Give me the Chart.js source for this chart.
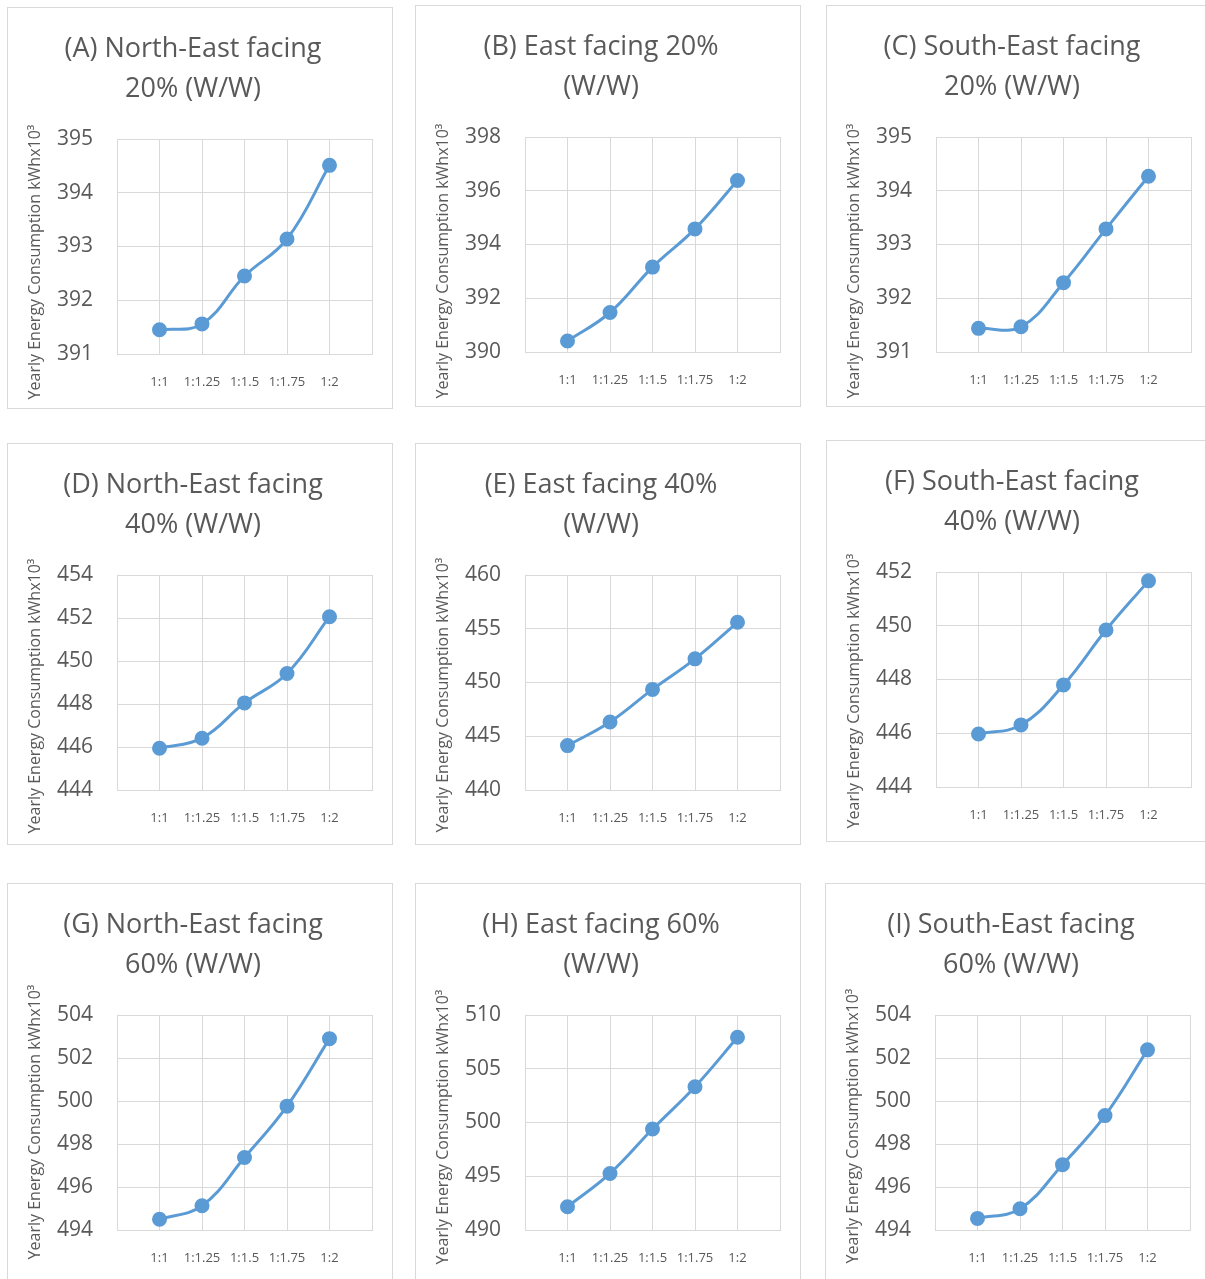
<!DOCTYPE html>
<html lang="en">
<head>
<meta charset="UTF-8">
<title>Yearly Energy Consumption</title>
<script src="https://cdn.jsdelivr.net/npm/chart.js"></script>
<style>
    body {
        margin: 0;
        background: white;
        width: 1205px;
        height: 1279px;
        overflow: hidden;
        position: relative;
    }
    .panel {
        position: absolute;
        width: 386px;
        height: 402px;
        border: 1px solid #d9d9d9;
        box-sizing: border-box;
        background: white;
    }
    .panel canvas { display: block; }
</style>
</head>
<body>
<!-- data-ty: vertical centre of the rotated y title inside each canvas -->
<div class="panel" style="left:7px;top:7px"><canvas id="cA" width="384" height="400" data-ty="254"></canvas></div>
<div class="panel" style="left:415px;top:5px"><canvas id="cB" width="384" height="400" data-ty="255"></canvas></div>
<div class="panel" style="left:826px;top:5px"><canvas id="cC" width="384" height="400" data-ty="255"></canvas></div>
<div class="panel" style="left:7px;top:443px"><canvas id="cD" width="384" height="400" data-ty="252"></canvas></div>
<div class="panel" style="left:415px;top:443px"><canvas id="cE" width="384" height="400" data-ty="251"></canvas></div>
<div class="panel" style="left:826px;top:440px"><canvas id="cF" width="384" height="400" data-ty="250"></canvas></div>
<div class="panel" style="left:7px;top:883px"><canvas id="cG" width="384" height="400" data-ty="238"></canvas></div>
<div class="panel" style="left:415px;top:883px"><canvas id="cH" width="384" height="400" data-ty="243"></canvas></div>
<div class="panel" style="left:825px;top:883px"><canvas id="cI" width="384" height="400" data-ty="242"></canvas></div>

<script>
    // aspect ratios on the x axis
    const ratios = ['1:1', '1:1.25', '1:1.5', '1:1.75', '1:2'];
    const yTitle = 'Yearly Energy Consumption kWhx10³';

    const titles = [
        ['(A) North-East facing', '20% (W/W)'],
        ['(B) East facing 20%', '(W/W)'],
        ['(C) South-East facing', '20% (W/W)'],
        ['(D) North-East facing', '40% (W/W)'],
        ['(E) East facing 40%', '(W/W)'],
        ['(F) South-East facing', '40% (W/W)'],
        ['(G) North-East facing', '60% (W/W)'],
        ['(H) East facing 60%', '(W/W)'],
        ['(I) South-East facing', '60% (W/W)']
    ];

    // values (kWh x 10^3)
    const northEast20 = [391.45, 391.56, 392.45, 393.14, 394.51];
    const east20      = [390.41, 391.47, 393.16, 394.58, 396.38];
    const southEast20 = [391.44, 391.47, 392.29, 393.29, 394.27];
    const northEast40 = [445.94, 446.41, 448.05, 449.42, 452.06];
    const east40      = [444.13, 446.33, 449.36, 452.20, 455.60];
    const southEast40 = [445.97, 446.31, 447.80, 449.84, 451.67];
    const northEast60 = [494.50, 495.13, 497.37, 499.76, 502.90];
    const east60      = [492.16, 495.26, 499.39, 503.33, 507.93];
    const southEast60 = [494.54, 494.99, 497.04, 499.32, 502.38];

    // y axis ranges per chart
    const yMin  = [391, 390, 391, 444, 440, 444, 494, 490, 494];
    const yMax  = [395, 398, 395, 454, 460, 452, 504, 510, 504];
    const yStep = [1, 2, 1, 2, 5, 2, 2, 5, 2];

    const series = [northEast20, east20, southEast20, northEast40, east40, southEast40, northEast60, east60, southEast60];
    const ids = ['cA', 'cB', 'cC', 'cD', 'cE', 'cF', 'cG', 'cH', 'cI'];

    const fuente = "'Open Sans', sans-serif";
    const gris = '#595959';
    const rejilla = '#d9d9d9';
    const azul = '#5b9bd5';

    const yTitlePlugin = {
        id: 'yTitle',
        afterDraw(chart) {
            const ctx = chart.ctx;
            ctx.save();
            ctx.translate(27, Number(chart.canvas.dataset.ty));
            ctx.rotate(-Math.PI / 2);
            ctx.font = '16px ' + fuente;
            ctx.fillStyle = gris;
            ctx.textAlign = 'center';
            ctx.textBaseline = 'middle';
            ctx.fillText(yTitle, 0, 0);
            ctx.restore();
        }
    };

    ids.forEach((id, i) => {
        new Chart(document.getElementById(id), {
            type: 'line',
            data: {
                // empty slots on both ends give the padding Excel leaves
                labels: ['', ...ratios, ''],
                datasets: [{
                    data: [null, ...series[i], null],
                    borderColor: azul,
                    backgroundColor: azul,
                    borderWidth: 3,
                    tension: 0.4,
                    pointRadius: 6,
                    pointHoverRadius: 6
                }]
            },
            options: {
                responsive: false,
                animation: false,
                layout: { padding: { left: 0, right: 14, top: 0, bottom: 0 } },
                plugins: {
                    legend: { display: false },
                    tooltip: { enabled: false },
                    title: {
                        display: true,
                        text: titles[i],
                        color: gris,
                        font: { family: fuente, size: 27, weight: 'normal', lineHeight: 1.5 },
                        padding: { top: 21, bottom: 29 }
                    }
                },
                scales: {
                    x: {
                        offset: false,
                        grid: { color: rejilla, drawTicks: false },
                        border: { color: rejilla },
                        ticks: {
                            color: gris,
                            font: { family: fuente, size: 13 },
                            padding: 20,
                            autoSkip: false,
                            maxRotation: 0
                        },
                        afterFit(scale) { scale.height = 54; }
                    },
                    y: {
                        min: yMin[i],
                        max: yMax[i],
                        grid: { color: rejilla, drawTicks: false },
                        border: { color: rejilla },
                        ticks: {
                            stepSize: yStep[i],
                            color: gris,
                            font: { family: fuente, size: 21 },
                            padding: 24
                        },
                        afterFit(scale) { scale.width = 109; }
                    }
                }
            },
            plugins: [yTitlePlugin]
        });
    });
</script>
</body>
</html>
